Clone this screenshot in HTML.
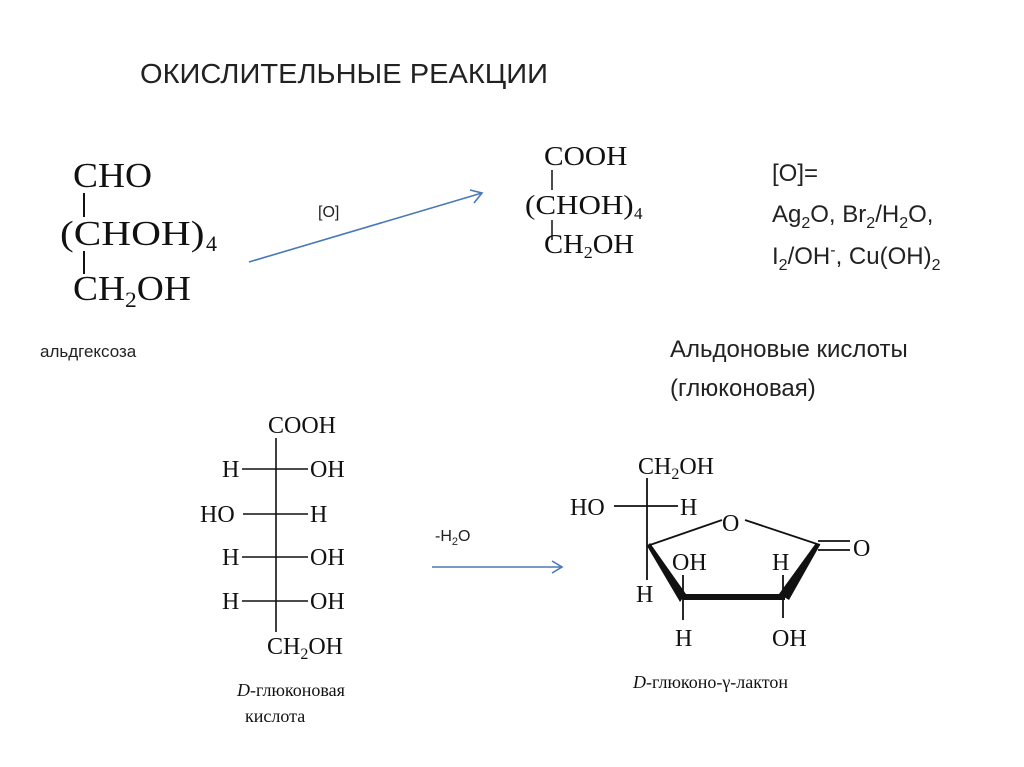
<!DOCTYPE html>
<html><head><meta charset="utf-8"><style>
html,body{margin:0;padding:0;background:#fff;}
svg{display:block;}
.s{font-family:"Liberation Serif","DejaVu Serif",serif;fill:#111;}
.c{font-family:"Liberation Sans","DejaVu Sans",sans-serif;fill:#222;}
</style></head><body>
<svg width="1024" height="767" viewBox="0 0 1024 767" xmlns="http://www.w3.org/2000/svg">
<text class="c" x="140" y="83" font-size="28" textLength="408" lengthAdjust="spacingAndGlyphs">ОКИСЛИТЕЛЬНЫЕ РЕАКЦИИ</text>

<!-- left aldohexose -->
<g class="s" font-size="35">
<text transform="translate(73,187) scale(1.07,1)">CHO</text>
<text transform="translate(60,245) scale(1.18,1)">(CHOH)</text>
<text x="206" y="251" font-size="22">4</text>
<text transform="translate(73,300) scale(1.07,1)">CH<tspan font-size="22" dy="7">2</tspan><tspan dy="-7">OH</tspan></text>
</g>
<line x1="84" y1="193" x2="84" y2="217" stroke="#111" stroke-width="2"/>
<line x1="84" y1="251" x2="84" y2="274" stroke="#111" stroke-width="2"/>
<text class="c" x="40" y="357" font-size="17">альдгексоза</text>

<!-- arrow 1 -->
<line x1="249" y1="262" x2="482" y2="193" stroke="#4a78b8" stroke-width="1.6"/>
<polyline points="470,190 482,193 474,203" fill="none" stroke="#4a78b8" stroke-width="1.6"/>
<text class="c" x="318" y="217" font-size="16">[O]</text>

<!-- middle -->
<g class="s" font-size="27">
<text transform="translate(544,165) scale(1.09,1)">COOH</text>
<text transform="translate(525,214) scale(1.15,1)">(CHOH)</text>
<text x="634" y="219" font-size="17">4</text>
<text transform="translate(544,253) scale(1.06,1)">CH<tspan font-size="17" dy="5">2</tspan><tspan dy="-5">OH</tspan></text>
</g>
<line x1="552" y1="170" x2="552" y2="190" stroke="#111" stroke-width="1.5"/>
<line x1="552" y1="220" x2="552" y2="240" stroke="#111" stroke-width="1.5"/>

<!-- right reagents -->
<g class="c" font-size="24">
<text x="772" y="181">[O]=</text>
<text x="772" y="222">Ag<tspan font-size="16" dy="6">2</tspan><tspan dy="-6">O, Br</tspan><tspan font-size="16" dy="6">2</tspan><tspan dy="-6">/H</tspan><tspan font-size="16" dy="6">2</tspan><tspan dy="-6">O,</tspan></text>
<text x="772" y="264">I<tspan font-size="16" dy="6">2</tspan><tspan dy="-6">/OH</tspan><tspan font-size="16" dy="-9">-</tspan><tspan dy="9">, Cu(OH)</tspan><tspan font-size="16" dy="6">2</tspan></text>
<text x="670" y="357">Альдоновые кислоты</text>
<text x="670" y="396">(глюконовая)</text>
</g>

<!-- Fischer gluconic acid -->
<g class="s" font-size="24">
<text x="268" y="433">COOH</text>
<text x="222" y="477">H</text><text x="310" y="477">OH</text>
<text x="200" y="522">HO</text><text x="310" y="522">H</text>
<text x="222" y="565">H</text><text x="310" y="565">OH</text>
<text x="222" y="609">H</text><text x="310" y="609">OH</text>
<text x="267" y="654">CH<tspan font-size="16" dy="5">2</tspan><tspan dy="-5">OH</tspan></text>
</g>
<g stroke="#111" stroke-width="1.6">
<line x1="276" y1="438" x2="276" y2="632"/>
<line x1="242" y1="469" x2="308" y2="469"/>
<line x1="243" y1="514" x2="308" y2="514"/>
<line x1="242" y1="557" x2="308" y2="557"/>
<line x1="242" y1="601" x2="308" y2="601"/>
</g>
<g class="s" font-size="18">
<text x="237" y="696"><tspan font-style="italic">D</tspan>-глюконовая</text>
<text x="245" y="722">кислота</text>
</g>

<!-- arrow 2 -->
<text class="c" x="435" y="541" font-size="16">-H<tspan font-size="11" dy="4">2</tspan><tspan dy="-4">O</tspan></text>
<line x1="432" y1="567" x2="562" y2="567" stroke="#4a78b8" stroke-width="1.6"/>
<polyline points="552,561 562,567 552,573" fill="none" stroke="#4a78b8" stroke-width="1.6"/>

<!-- lactone -->
<g class="s" font-size="24">
<text x="638" y="474">CH<tspan font-size="16" dy="5">2</tspan><tspan dy="-5">OH</tspan></text>
<text x="570" y="515">HO</text>
<text x="680" y="515">H</text>
<text x="722" y="531">O</text>
<text x="853" y="556">O</text>
<text x="672" y="570">OH</text>
<text x="772" y="570">H</text>
<text x="636" y="602">H</text>
<text x="675" y="646">H</text>
<text x="772" y="646">OH</text>
</g>
<g stroke="#111" stroke-width="1.8" fill="none">
<line x1="647" y1="478" x2="647" y2="580"/>
<line x1="614" y1="506" x2="678" y2="506"/>
<line x1="647" y1="546" x2="722" y2="520"/>
<line x1="745" y1="520" x2="820" y2="545"/>
<line x1="818" y1="541" x2="850" y2="541"/>
<line x1="818" y1="550" x2="850" y2="550"/>
<line x1="683" y1="575" x2="683" y2="620"/>
<line x1="783" y1="575" x2="783" y2="618"/>
</g>
<polygon points="647,546 650,543 686,594 680,602" fill="#111"/>
<rect x="683" y="594" width="102" height="6" fill="#111"/>
<polygon points="820,545 816,543 779,594 789,600" fill="#111"/>
<text class="s" x="633" y="688" font-size="18"><tspan font-style="italic">D</tspan>-глюконо-γ-лактон</text>
</svg>
</body></html>
